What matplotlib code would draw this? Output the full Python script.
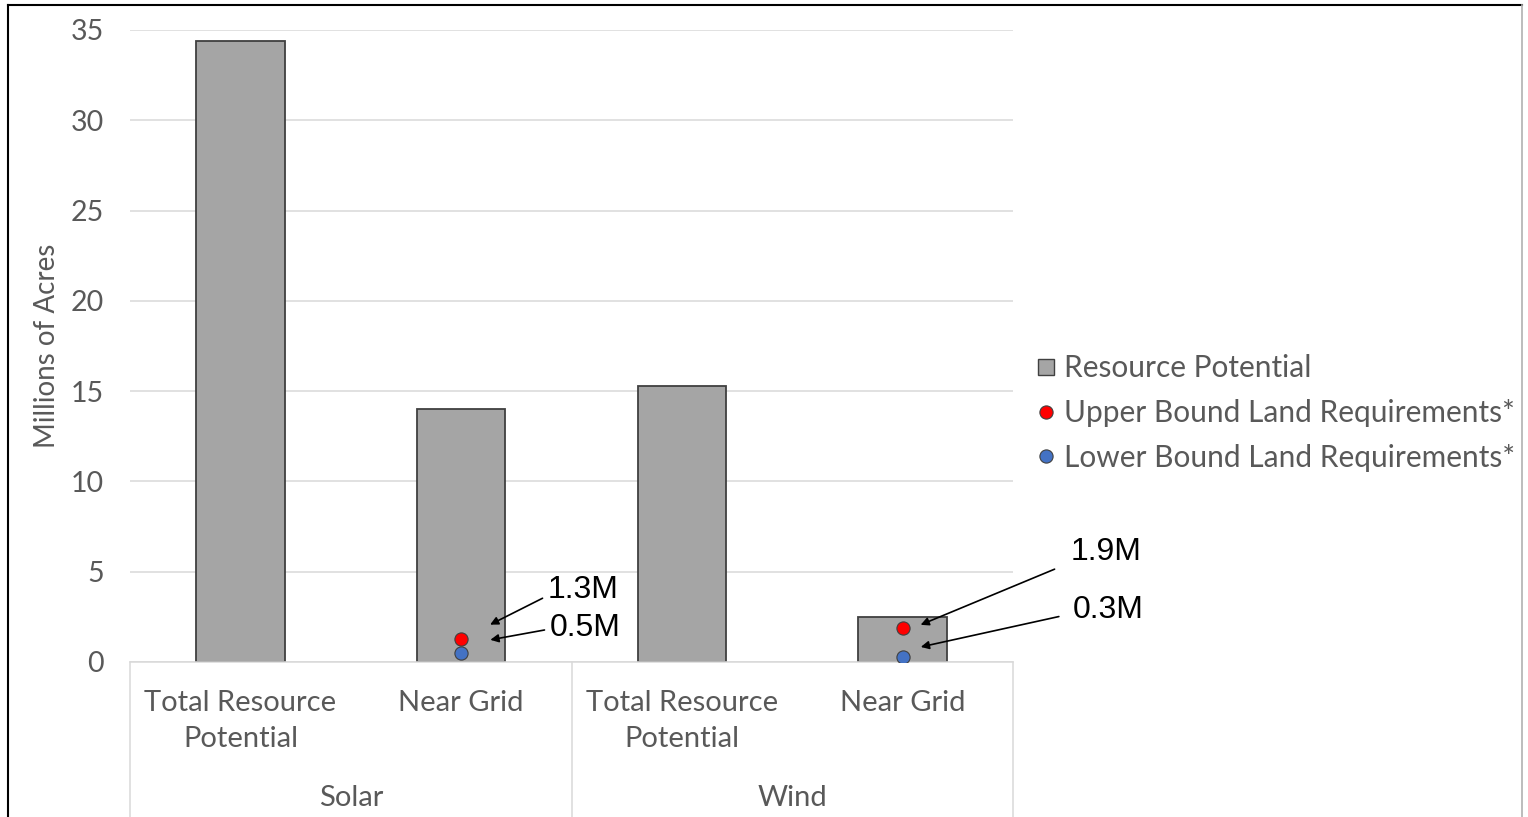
import matplotlib.pyplot as plt
from matplotlib.lines import Line2D
import numpy as np

# Land availability vs. requirements, millions of acres
sectors = ["Solar", "Wind"]
categories = ["Total Resource\nPotential", "Near Grid", "Total Resource\nPotential", "Near Grid"]
resource_potential = [34.4, 14.0, 15.3, 2.5]
# land requirement bounds exist only for the near-grid bars (index 1 and 3)
req_idx = [1, 3]
upper_bound = [1.3, 1.9]
lower_bound = [0.5, 0.3]
upper_labels = ["1.3M", "1.9M"]
lower_labels = ["0.5M", "0.3M"]

GRAY_TXT = "#595959"
FONT = "Lato"

fig = plt.figure(figsize=(15.28, 8.17), dpi=100)
ax = fig.add_axes([130 / 1528, 1 - 662 / 817, 883 / 1528, 632 / 817])

x = np.arange(len(categories))
ax.bar(x, resource_potential, width=0.4, color="#a5a5a5", edgecolor="#404040",
       linewidth=1.3, zorder=2)
ax.plot(req_idx, upper_bound, "o", color="#ff0000", markeredgecolor="#404040",
        markeredgewidth=0.8, markersize=9.5, zorder=3)
ax.plot(req_idx, lower_bound, "o", color="#4472c4", markeredgecolor="#404040",
        markeredgewidth=0.8, markersize=9.5, zorder=3)

ax.set_xlim(-0.5, len(categories) - 0.5)
ax.set_ylim(0, 35)
ax.set_yticks(range(0, 36, 5))
ax.yaxis.grid(True, color="#d9d9d9", linewidth=1.1, zorder=0)
ax.set_axisbelow(True)
for s in ["left", "right", "top"]:
    ax.spines[s].set_visible(False)
ax.spines["bottom"].set_color("#d9d9d9")
ax.spines["bottom"].set_linewidth(1.1)
ax.tick_params(axis="y", length=0, pad=19, labelsize=20.5, labelcolor=GRAY_TXT)
for t in ax.get_yticklabels():
    t.set_fontfamily(FONT)
ax.set_ylabel("Millions of Acres", fontsize=20, color=GRAY_TXT, family=FONT)
ax.yaxis.set_label_coords(-0.079, 0.5)

# two-level category axis
ax.set_xticks(x)
ax.set_xticklabels(categories, fontsize=21, color=GRAY_TXT, family=FONT, linespacing=1.5,
                   va="top")
ax.tick_params(axis="x", length=0, pad=20)
for i, name in enumerate(sectors):
    ax.text(2 * i + 0.5, -0.215, name, transform=ax.get_xaxis_transform(),
            ha="center", va="center", fontsize=21, color=GRAY_TXT, family=FONT)
for xs in [-0.5, 1.5, 3.5]:
    ax.plot([xs, xs], [0, -0.3], transform=ax.get_xaxis_transform(),
            color="#d9d9d9", linewidth=1.1, clip_on=False)

# value callouts with arrows
arrow = dict(arrowstyle="-|>", color="black", linewidth=1.2, mutation_scale=12)
callouts = [
    # (label, text xy, arrow start, arrow tip)
    (upper_labels[0], (1.39, 4.0), (1.38, 3.6), (1.12, 2.0)),
    (lower_labels[0], (1.40, 1.9), (1.39, 1.8), (1.12, 1.2)),
    (upper_labels[1], (3.76, 6.1), (3.70, 5.2), (3.07, 2.0)),
    (lower_labels[1], (3.77, 2.9), (3.72, 2.55), (3.07, 0.8)),
]
for label, txy, start, tip in callouts:
    ax.text(txy[0], txy[1], label, ha="left", va="center", fontsize=23,
            family="Liberation Sans", color="black")
    ax.annotate("", xy=tip, xytext=start, arrowprops=arrow, annotation_clip=False)

handles = [
    Line2D([], [], marker="s", linestyle="none", markersize=12, markerfacecolor="#a5a5a5",
           markeredgecolor="#404040", markeredgewidth=1.0),
    Line2D([], [], marker="o", linestyle="none", markersize=9.5, markerfacecolor="#ff0000",
           markeredgecolor="#404040", markeredgewidth=0.8),
    Line2D([], [], marker="o", linestyle="none", markersize=9.5, markerfacecolor="#4472c4",
           markeredgecolor="#404040", markeredgewidth=0.8),
]
leg = fig.legend(handles, ["Resource Potential", "Upper Bound Land Requirements*",
                           "Lower Bound Land Requirements*"],
                 loc="center left", bbox_to_anchor=(1034 / 1528, 1 - 413 / 817),
                 frameon=False, borderaxespad=0, borderpad=0, handlelength=0.8,
                 handletextpad=0.2, labelspacing=0.56,
                 prop={"family": FONT, "size": 21.5})
for t in leg.get_texts():
    t.set_color(GRAY_TXT)

# outer frame
fig.add_artist(Line2D([8 / 1528, 8 / 1528], [0, 1 - 5 / 817], color="black", linewidth=1.5))
fig.add_artist(Line2D([8 / 1528, 1522 / 1528], [1 - 5 / 817, 1 - 5 / 817], color="black",
                      linewidth=1.5))
fig.add_artist(Line2D([1522 / 1528, 1522 / 1528], [0, 1 - 5 / 817], color="#b0b0b0",
                      linewidth=1.2))

fig.savefig("out.png", dpi=100)
